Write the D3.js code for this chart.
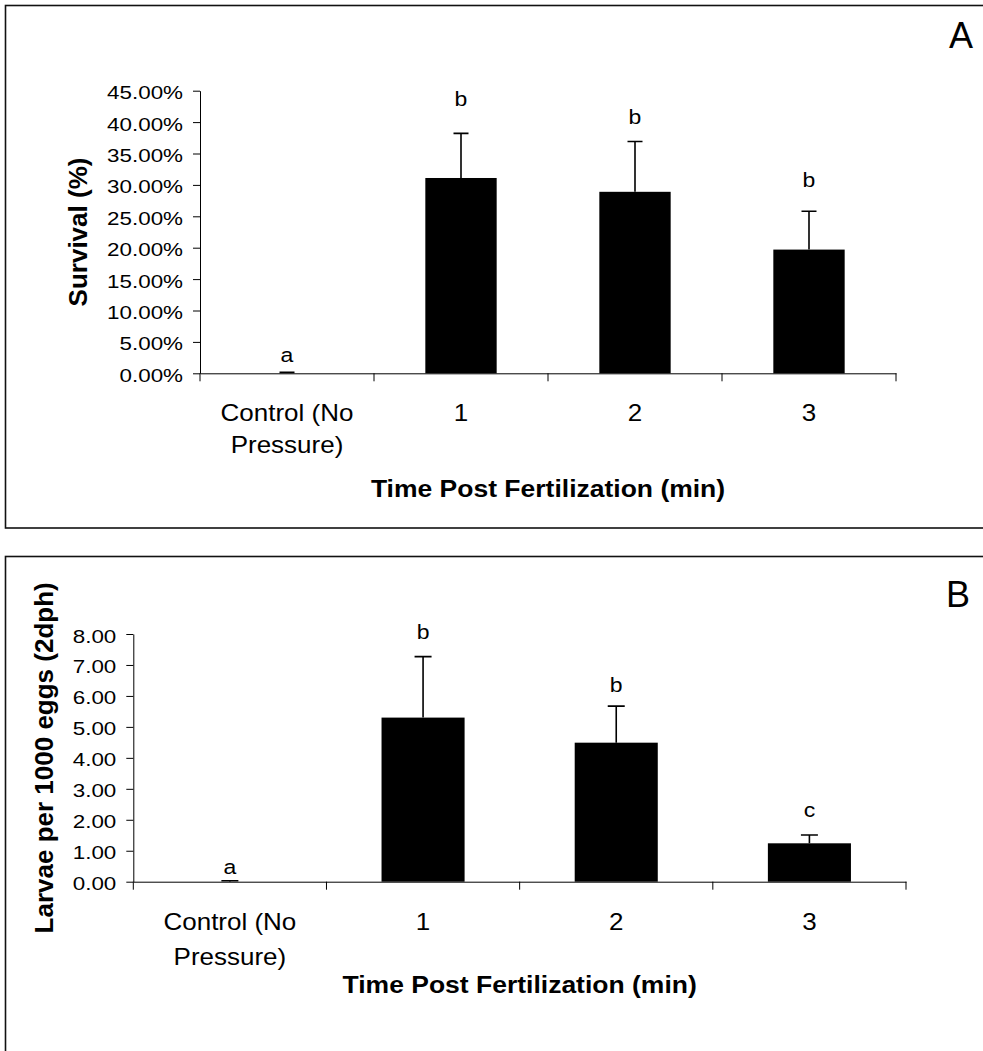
<!DOCTYPE html>
<html lang="en">
<head>
    <meta charset="UTF-8">
    <title>Survival and larvae per 1000 eggs</title>
    <script src="https://d3js.org/d3.v7.min.js"></script>
    <style>
        html, body {
            margin: 0;
            background: #fff;
        }
        svg text {
            font-family: "Liberation Sans", Arial, sans-serif;
            fill: #000;
        }
    </style>
</head>
<body>
    <div id="vis"></div>

    <script>
        // categories on the x axis (same for both panels)
        var categories = ["Control (No Pressure)", "1", "2", "3"];
        var categoryLines = [["Control (No", "Pressure)"], ["1"], ["2"], ["3"]];

        // panel A - survival (fraction)
        var survivalMean = [0.0, 0.311, 0.289, 0.197];
        var survivalErr = [0.0015, 0.071, 0.080, 0.061];
        var survivalLetters = ["a", "b", "b", "b"];
        var survivalLetterAt = [0.018, 0.426, 0.397, 0.297];
        var survivalTicks = [0, 0.05, 0.10, 0.15, 0.20, 0.25, 0.30, 0.35, 0.40, 0.45];

        // panel B - larvae per 1000 eggs
        var larvaeMean = [0.0, 5.30, 4.49, 1.24];
        var larvaeErr = [0.03, 1.97, 1.18, 0.27];
        var larvaeLetters = ["a", "b", "b", "c"];
        var larvaeLetterAt = [0.25, 7.84, 6.14, 2.10];
        var larvaeTicks = [0, 1, 2, 3, 4, 5, 6, 7, 8];

        var svg = d3.select("#vis")
            .append("svg")
                .attr("width", 983)
                .attr("height", 1051);

        // helper: the original image is a little squashed vertically, so text gets a y scale
        function label(g, x, y, txt, o) {
            return g.append("text")
                .attr("transform", "translate(" + x + "," + y + ") scale(1," + (o.sy || 1) + ")" + (o.rotate ? " rotate(-90)" : ""))
                .attr("text-anchor", o.anchor || "middle")
                .style("font-size", o.size + "px")
                .style("font-weight", o.bold ? "bold" : "normal")
                .text(txt);
        }

        function panel(cfg) {
            var g = svg.append("g");

            // frame
            g.append("rect")
                .attr("x", 5.5)
                .attr("y", cfg.frameTop)
                .attr("width", 1000)
                .attr("height", cfg.frameHeight)
                .attr("fill", "none")
                .attr("stroke", "#111")
                .attr("stroke-width", 1.6);

            var x = d3.scaleBand()
                .domain(categories)
                .range([cfg.left, cfg.right])
                .paddingInner(cfg.pad)
                .paddingOuter(cfg.pad / 2);

            var y = d3.scaleLinear()
                .domain([0, cfg.yMax])
                .range([cfg.bottom, cfg.top]);

            // y axis
            var yAxis = g.append("g")
                .attr("transform", "translate(" + cfg.left + ",0)")
                .call(d3.axisLeft(y)
                    .tickValues(cfg.ticks)
                    .tickFormat(cfg.format)
                    .tickSize(7)
                    .tickPadding(10)
                    .tickSizeOuter(0));
            yAxis.selectAll("text")
                .attr("dy", null)
                .attr("transform", "translate(0," + cfg.tickDy + ") scale(1,0.84)")
                .style("font-size", "22.4px")
                .style("font-family", "'Liberation Sans', Arial, sans-serif");
            yAxis.selectAll("line, path").attr("stroke", "#000");

            // x axis: ticks sit on the band boundaries
            var xAxis = g.append("g")
                .attr("transform", "translate(0," + cfg.bottom + ")")
                .call(d3.axisBottom(x).tickSize(0).tickFormat("").tickSizeOuter(0));
            xAxis.select("path").attr("stroke", "#000");
            var bounds = categories.map(function(d) { return x(d) - x.step() * x.paddingInner() / 2; })
                .concat([cfg.right]);
            xAxis.selectAll(".bound")
                .data(bounds)
                .enter()
                .append("line")
                .attr("class", "bound")
                .attr("x1", function(d) { return d; })
                .attr("x2", function(d) { return d; })
                .attr("y1", 0)
                .attr("y2", 8)
                .attr("stroke", "#000");

            // bars
            g.selectAll(".bar")
                .data(cfg.mean)
                .enter()
                .append("rect")
                .attr("class", "bar")
                .attr("x", function(d, i) { return x(categories[i]); })
                .attr("width", x.bandwidth())
                .attr("y", function(d) { return y(d); })
                .attr("height", function(d) { return cfg.bottom - y(d); })
                .attr("fill", "#000");

            // error bars (upper only)
            var cx = function(i) { return x(categories[i]) + x.bandwidth() / 2; };
            g.selectAll(".err")
                .data(cfg.err)
                .enter()
                .append("path")
                .attr("class", "err")
                .attr("d", function(d, i) {
                    var top = y(cfg.mean[i] + d), base = y(cfg.mean[i]);
                    return "M" + cx(i) + "," + base + "V" + top +
                        "M" + (cx(i) - cfg.cap / 2) + "," + top + "H" + (cx(i) + cfg.cap / 2);
                })
                .attr("fill", "none")
                .attr("stroke", "#000")
                .attr("stroke-width", 1.6);

            // significance letters
            cfg.letters.forEach(function(t, i) {
                label(g, cx(i), y(cfg.letterAt[i]), t, {size: 23, sy: 0.9});
            });

            // category labels
            categoryLines.forEach(function(lines, i) {
                lines.forEach(function(t, j) {
                    label(g, cx(i), cfg.catY + j * cfg.catGap, t, {size: 26, sy: 0.9});
                });
            });

            // axis titles
            label(g, (cfg.left + cfg.right) / 2, cfg.titleY, "Time Post Fertilization (min)", {size: 26.5, sy: 0.88, bold: true});
            label(g, cfg.yTitleX, (cfg.top + cfg.bottom) / 2, cfg.yTitle, {size: 26, bold: true, rotate: true});

            // panel letter
            label(g, cfg.letterX, cfg.letterY, cfg.name, {size: 36, anchor: "start"});
        }

        panel({
            name: "A",
            frameTop: 5.5, frameHeight: 522.5,
            left: 200, right: 896, top: 90.7, bottom: 373.3,
            yMax: 0.45, ticks: survivalTicks, format: d3.format(".2%"), tickDy: 8,
            pad: 0.59, cap: 15,
            mean: survivalMean, err: survivalErr,
            letters: survivalLetters, letterAt: survivalLetterAt,
            catY: 420.7, catGap: 32.7,
            titleY: 496.7,
            yTitle: "Survival (%)", yTitleX: 87.3,
            letterX: 949, letterY: 48.3
        });

        panel({
            name: "B",
            frameTop: 556.5, frameHeight: 600,
            left: 133.3, right: 906, top: 634, bottom: 881.7,
            yMax: 8, ticks: larvaeTicks, format: d3.format(".2f"), tickDy: 8,
            pad: 0.57, cap: 17,
            mean: larvaeMean, err: larvaeErr,
            letters: larvaeLetters, letterAt: larvaeLetterAt,
            catY: 930, catGap: 35,
            titleY: 993.3,
            yTitle: "Larvae per 1000 eggs (2dph)", yTitleX: 53.3,
            letterX: 946, letterY: 607.3
        });
    </script>
</body>
</html>
